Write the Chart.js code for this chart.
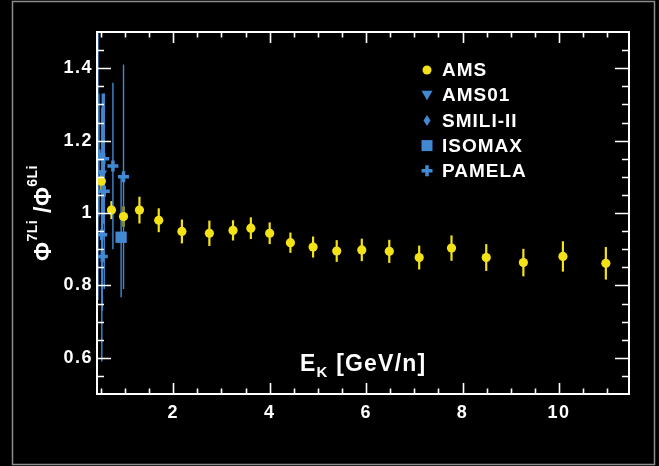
<!DOCTYPE html>
<html>
<head>
<meta charset="utf-8">
<script src="https://cdn.jsdelivr.net/npm/chart.js@4.4.0/dist/chart.umd.min.js"></script>
<style>
  html, body { margin: 0; padding: 0; background: #000; }
</style>
</head>
<body>
<canvas id="myChart" width="659" height="466"></canvas>
<script>
// AMS 7Li/6Li flux ratio vs kinetic energy per nucleon
const amsEnergy = [0.51, 0.72, 0.97, 1.30, 1.70, 2.18, 2.75, 3.24, 3.61, 4.00, 4.43, 4.90, 5.39, 5.91, 6.48, 7.10, 7.77, 8.49, 9.26, 10.08, 10.97];
const amsRatio = [1.088, 1.008, 0.990, 1.008, 0.980, 0.949, 0.944, 0.952, 0.958, 0.944, 0.918, 0.906, 0.895, 0.898, 0.894, 0.877, 0.903, 0.877, 0.863, 0.880, 0.861];
const amsError = [0.030, 0.025, 0.028, 0.037, 0.033, 0.033, 0.035, 0.028, 0.030, 0.030, 0.028, 0.029, 0.030, 0.031, 0.032, 0.033, 0.035, 0.037, 0.038, 0.042, 0.045];

// older measurements
const ams01Energy = [0.53];
const ams01Ratio = [1.11];
const ams01Error = [0.22];

const smiliEnergy = [0.44];
const smiliRatio = [1.16];
const smiliError = [0.40];

const isomaxEnergy = [0.92];
const isomaxRatio = [0.933];
const isomaxError = [0.166];

const pamelaEnergy = [0.46, 0.56, 0.57, 0.52, 0.53, 0.75, 0.97];
const pamelaRatio = [1.16, 1.15, 1.06, 0.94, 0.88, 1.13, 1.10];
const pamelaError = [0.17, 0.18, 0.27, 0.35, 0.15, 0.23, 0.31];

// axis ticks
const xTickLabels = [2, 4, 6, 8, 10];
const yTickLabels = [0.6, 0.8, 1, 1.2, 1.4];

const YELLOW = "#f3e316";
const BLUE = "#4189d2";
const FONT = "'Liberation Sans', Arial, sans-serif";

function toPoints(xs, ys) {
  return xs.map((x, i) => ({ x: x, y: ys[i] }));
}

// error bars, drawn under the markers
const errorBars = {
  id: "errorBars",
  beforeDatasetsDraw(chart) {
    const ctx = chart.ctx;
    const xs = chart.scales.x;
    const ys = chart.scales.y;
    const area = chart.chartArea;
    ctx.save();
    ctx.beginPath();
    ctx.rect(area.left, area.top, area.right - area.left, area.bottom - area.top);
    ctx.clip();
    chart.data.datasets.forEach((ds) => {
      ctx.strokeStyle = ds.errColor;
      ctx.lineWidth = ds.errWidth;
      ds.data.forEach((p, i) => {
        const px = xs.getPixelForValue(p.x);
        ctx.beginPath();
        ctx.moveTo(px, ys.getPixelForValue(p.y - ds.errors[i]));
        ctx.lineTo(px, ys.getPixelForValue(p.y + ds.errors[i]));
        ctx.stroke();
      });
    });
    ctx.restore();
  },
};

function drawMarker(ctx, style, x, y, color) {
  ctx.fillStyle = color;
  ctx.strokeStyle = color;
  ctx.beginPath();
  if (style === "circle") {
    ctx.arc(x, y, 4.5, 0, Math.PI * 2);
    ctx.fill();
  } else if (style === "triangle") {
    ctx.moveTo(x - 5.5, y - 4.5);
    ctx.lineTo(x + 5.5, y - 4.5);
    ctx.lineTo(x, y + 5);
    ctx.closePath();
    ctx.fill();
  } else if (style === "rectRot") {
    ctx.moveTo(x, y - 5.5);
    ctx.lineTo(x + 3.5, y);
    ctx.lineTo(x, y + 5.5);
    ctx.lineTo(x - 3.5, y);
    ctx.closePath();
    ctx.fill();
  } else if (style === "rect") {
    ctx.rect(x - 5.5, y - 5.5, 11, 11);
    ctx.fill();
  } else if (style === "cross") {
    ctx.lineWidth = 3.5;
    ctx.moveTo(x - 5.5, y);
    ctx.lineTo(x + 5.5, y);
    ctx.moveTo(x, y - 5.5);
    ctx.lineTo(x, y + 5.5);
    ctx.stroke();
  }
}

// black page, grey outer box, white frame with inward ticks, titles, legend
const decor = {
  id: "decor",
  beforeDraw(chart) {
    const ctx = chart.ctx;
    ctx.save();
    ctx.fillStyle = "#000";
    ctx.fillRect(0, 0, chart.width, chart.height);
    ctx.strokeStyle = "#8c8c8c";
    ctx.lineWidth = 1.5;
    ctx.strokeRect(12.5, 1.5, 642, 463);
    ctx.restore();
    // wider letter spacing, like the original bold labels
    ctx.letterSpacing = "1.5px";
  },
  afterDraw(chart) {
    const ctx = chart.ctx;
    const xs = chart.scales.x;
    const ys = chart.scales.y;
    const a = chart.chartArea;
    ctx.save();
    ctx.strokeStyle = "#fff";
    ctx.lineWidth = 1.6;

    // x ticks (major every 2, minor every 0.5)
    for (let v = 0.5; v <= xs.max; v += 0.5) {
      const px = Math.round(xs.getPixelForValue(v)) + 0.5;
      const len = Math.abs(v % 2) < 1e-6 ? 11 : 5.5;
      ctx.beginPath();
      ctx.moveTo(px, a.bottom);
      ctx.lineTo(px, a.bottom - len);
      ctx.moveTo(px, a.top);
      ctx.lineTo(px, a.top + len);
      ctx.stroke();
    }
    // y ticks (major every 0.2, minor every 0.05)
    for (let k = 11; k < 30; k++) {
      const v = k * 0.05;
      const py = Math.round(ys.getPixelForValue(v)) + 0.5;
      const len = k % 4 === 0 ? 14 : 7;
      ctx.beginPath();
      ctx.moveTo(a.left, py);
      ctx.lineTo(a.left + len, py);
      ctx.moveTo(a.right, py);
      ctx.lineTo(a.right - len, py);
      ctx.stroke();
    }
    ctx.lineWidth = 2;
    ctx.strokeRect(a.left, a.top, a.right - a.left, a.bottom - a.top);

    // x title
    ctx.fillStyle = "#fff";
    ctx.textBaseline = "alphabetic";
    ctx.textAlign = "left";
    ctx.letterSpacing = "1.2px";
    ctx.font = "bold 23px " + FONT;
    ctx.fillText("E", 300, 371);
    let w = ctx.measureText("E").width;
    ctx.font = "bold 15px " + FONT;
    ctx.fillText("K", 300 + w, 377);
    w += ctx.measureText("K").width;
    ctx.font = "bold 23px " + FONT;
    ctx.fillText(" [GeV/n]", 300 + w, 371);

    // y title, rotated
    ctx.letterSpacing = "0.5px";
    const parts = [
      { t: "\u03A6", big: true },
      { t: "7Li", big: false },
      { t: " /\u03A6", big: true },
      { t: "6Li", big: false },
    ];
    const bigFont = "bold 23px " + FONT;
    const smallFont = "bold 14px " + FONT;
    let total = 0;
    parts.forEach((p) => {
      ctx.font = p.big ? bigFont : smallFont;
      p.w = ctx.measureText(p.t).width;
      total += p.w;
    });
    ctx.translate(51, 213 + total / 2);
    ctx.rotate(-Math.PI / 2);
    let pos = 0;
    parts.forEach((p) => {
      ctx.font = p.big ? bigFont : smallFont;
      ctx.fillText(p.t, pos, p.big ? 0 : -14);
      pos += p.w;
    });
    ctx.setTransform(1, 0, 0, 1, 0, 0);

    // legend
    ctx.letterSpacing = "1px";
    ctx.font = "bold 19px " + FONT;
    ctx.textBaseline = "middle";
    chart.data.datasets.forEach((ds, i) => {
      const ly = 70 + i * 25.2;
      drawMarker(ctx, ds.legendStyle, 427, ly, ds.pointBackgroundColor);
      ctx.fillStyle = "#fff";
      ctx.fillText(ds.label, 442, ly + 1);
    });
    ctx.restore();
  },
};

const ctx = document.getElementById("myChart");

new Chart(ctx, {
  type: "scatter",
  data: {
    datasets: [
      {
        label: "AMS",
        data: toPoints(amsEnergy, amsRatio),
        errors: amsError,
        errColor: YELLOW,
        errWidth: 2.2,
        legendStyle: "circle",
        pointStyle: "circle",
        pointRadius: 4.6,
        pointBackgroundColor: YELLOW,
        pointBorderColor: YELLOW,
        pointBorderWidth: 0,
      },
      {
        label: "AMS01",
        data: toPoints(ams01Energy, ams01Ratio),
        errors: ams01Error,
        errColor: BLUE,
        errWidth: 1.4,
        legendStyle: "triangle",
        pointStyle: "triangle",
        rotation: 180,
        pointRadius: 5.5,
        pointBackgroundColor: BLUE,
        pointBorderColor: BLUE,
        pointBorderWidth: 0,
      },
      {
        label: "SMILI-II",
        data: toPoints(smiliEnergy, smiliRatio),
        errors: smiliError,
        errColor: BLUE,
        errWidth: 1.4,
        legendStyle: "rectRot",
        pointStyle: "rectRot",
        pointRadius: 5,
        pointBackgroundColor: BLUE,
        pointBorderColor: BLUE,
        pointBorderWidth: 0,
      },
      {
        label: "ISOMAX",
        data: toPoints(isomaxEnergy, isomaxRatio),
        errors: isomaxError,
        errColor: BLUE,
        errWidth: 1.4,
        legendStyle: "rect",
        pointStyle: "rect",
        pointRadius: 8,
        pointBackgroundColor: BLUE,
        pointBorderColor: BLUE,
        pointBorderWidth: 0,
      },
      {
        label: "PAMELA",
        data: toPoints(pamelaEnergy, pamelaRatio),
        errors: pamelaError,
        errColor: BLUE,
        errWidth: 1.4,
        legendStyle: "cross",
        pointStyle: "cross",
        pointRadius: 5.5,
        pointBackgroundColor: BLUE,
        pointBorderColor: BLUE,
        pointBorderWidth: 3.5,
      },
    ],
  },
  options: {
    responsive: false,
    animation: false,
    devicePixelRatio: 1,
    layout: { padding: { top: 32, right: 30, left: 0, bottom: 0 } },
    plugins: {
      legend: { display: false },
      tooltip: { enabled: false },
    },
    scales: {
      x: {
        type: "linear",
        min: 0.42,
        max: 11.45,
        grid: { display: false, drawTicks: false },
        border: { display: false },
        afterFit: (scale) => { scale.height = 72; },
        afterBuildTicks: (scale) => {
          scale.ticks = xTickLabels.map((v) => ({ value: v }));
        },
        ticks: {
          color: "#fff",
          padding: 8,
          maxRotation: 0,
          font: { family: FONT, size: 18, weight: "bold" },
          callback: (v) => String(v),
        },
      },
      y: {
        type: "linear",
        min: 0.5,
        max: 1.5,
        grid: { display: false, drawTicks: false },
        border: { display: false },
        afterFit: (scale) => { scale.width = 97; },
        afterBuildTicks: (scale) => {
          scale.ticks = yTickLabels.map((v) => ({ value: v }));
        },
        ticks: {
          color: "#fff",
          padding: 4,
          font: { family: FONT, size: 18, weight: "bold" },
          callback: (v) => String(v),
        },
      },
    },
  },
  plugins: [errorBars, decor],
});
</script>
</body>
</html>
